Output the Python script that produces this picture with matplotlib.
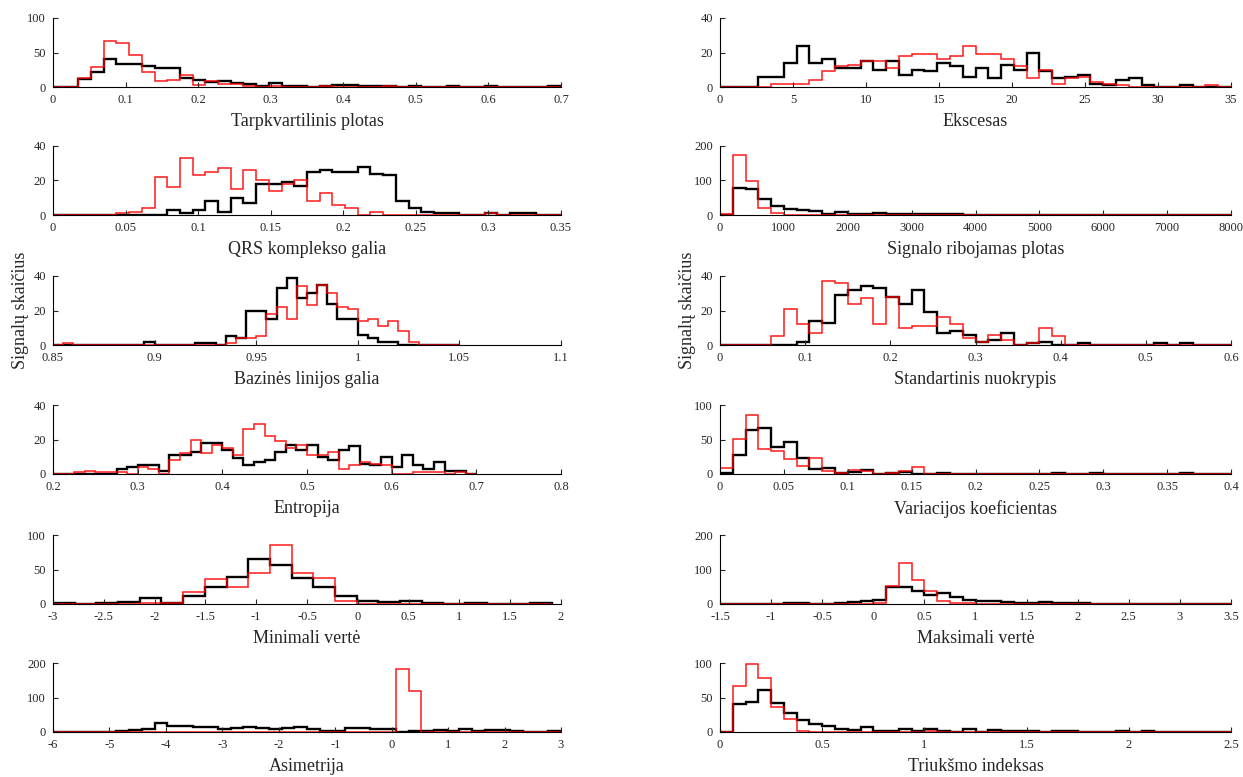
import matplotlib
matplotlib.use("Agg")
import matplotlib.pyplot as plt
from matplotlib.ticker import FuncFormatter
import numpy as np

plt.rcParams['font.family'] = ['Liberation Serif', 'DejaVu Serif']
plt.rcParams['axes.unicode_minus'] = False

# histogram counts (black = first group, red = second group)
iqr_range = (0.0, 0.7)
iqr_black = [0, 0, 11, 22, 41, 34, 33, 30, 27, 28, 13, 10, 7, 8, 6, 4, 1, 6, 2, 2,
             0, 2, 3, 3, 1, 2, 1, 0, 2, 0, 0, 1, 0, 0, 1, 0, 0, 0, 0, 1]
iqr_red = [0, 0, 13, 29, 67, 64, 46, 22, 9, 10, 18, 3, 9, 4, 4, 1, 0, 1, 0, 0,
           0, 1, 0, 0, 0, 0, 1, 0, 0, 0, 0, 0, 0, 0, 0, 0, 0, 0, 0, 0]

kurt_range = (0.0, 35.0)
kurt_black = [0, 0, 0, 6, 6, 14, 24, 14, 16, 11, 11, 15, 10, 15, 7, 10, 9, 14, 12, 6,
              11, 5, 13, 10, 20, 9, 5, 6, 7, 2, 1, 4, 5, 1, 0, 0, 1, 0, 0, 0]
kurt_red = [0, 0, 0, 0, 2, 2, 2, 4, 9, 12, 13, 15, 15, 11, 18, 19, 19, 16, 18, 24,
            19, 19, 16, 12, 5, 10, 2, 5, 6, 3, 2, 1, 0, 0, 0, 0, 0, 0, 1, 0]

qrs_range = (0.0, 0.35)
qrs_black = [0, 0, 0, 0, 0, 0, 0, 0, 0, 3, 1, 3, 8, 2, 10, 7, 18, 18, 19, 17,
             25, 26, 25, 25, 28, 24, 23, 8, 4, 2, 1, 1, 0, 0, 1, 0, 1, 1, 0, 0]
qrs_red = [0, 0, 0, 0, 0, 1, 2, 4, 22, 16, 33, 23, 25, 27, 15, 26, 20, 14, 18, 20,
           8, 13, 6, 4, 0, 2, 0, 0, 0, 0, 0, 0, 0, 0, 1, 0, 0, 0, 0, 0]

area_range = (0.0, 8000.0)
area_black = [0, 78, 76, 47, 25, 17, 14, 12, 3, 8, 4, 4, 5, 3, 3, 3, 4, 4, 4, 1,
              1, 1, 1, 1, 0, 0, 0, 0, 0, 1, 1, 0, 0, 0, 0, 1, 1, 0, 0, 0]
area_red = [4, 175, 98, 20, 5, 1, 1, 1, 0, 1, 1, 0, 0, 0, 0, 0, 0, 0, 0, 0,
            0, 0, 0, 0, 0, 0, 0, 0, 0, 0, 0, 0, 0, 0, 0, 0, 0, 0, 0, 0]

base_range = (0.85, 1.05)
base_black = [0, 0, 0, 0, 0, 0, 0, 0, 0, 2, 0, 0, 0, 0, 1, 1, 0, 5, 4, 20,
              20, 15, 33, 39, 27, 30, 35, 24, 15, 15, 6, 4, 2, 2, 0, 0, 0, 0, 0, 0]
base_red = [0, 1, 0, 0, 0, 0, 0, 0, 0, 0, 0, 0, 0, 0, 0, 0, 0, 1, 4, 4,
            5, 18, 22, 15, 34, 23, 35, 30, 22, 21, 14, 15, 11, 14, 8, 2, 0, 0, 0, 0]

std_range = (0.0, 0.6)
std_black = [0, 0, 0, 0, 0, 0, 2, 14, 13, 29, 32, 34, 33, 28, 24, 32, 19, 7, 8, 6,
             2, 3, 7, 0, 1, 2, 0, 0, 1, 0, 0, 0, 0, 0, 1, 0, 1, 0, 0, 0]
std_red = [0, 0, 0, 0, 5, 21, 12, 7, 37, 36, 24, 27, 12, 28, 10, 11, 11, 16, 12, 4,
           2, 6, 3, 0, 1, 10, 5, 0, 0, 0, 0, 0, 0, 0, 0, 0, 0, 0, 0, 0]

ent_range = (0.2, 0.7)
ent_black = [0, 0, 0, 0, 0, 0, 3, 4, 5, 5, 2, 11, 11, 13, 18, 18, 14, 9, 5, 7,
             8, 13, 17, 14, 17, 10, 8, 14, 16, 6, 5, 10, 4, 11, 5, 3, 7, 2, 2, 0]
ent_red = [0, 0, 1, 2, 1, 1, 1, 0, 4, 3, 0, 8, 12, 20, 12, 17, 15, 11, 26, 29,
           22, 19, 15, 17, 11, 11, 13, 3, 5, 7, 6, 5, 0, 0, 1, 1, 1, 0, 1, 0]

cv_range = (0.0, 0.4)
cv_black = [1, 27, 64, 66, 39, 46, 23, 7, 9, 1, 3, 6, 0, 1, 3, 0, 0, 1, 0, 0,
            0, 0, 0, 0, 0, 0, 1, 0, 0, 1, 0, 0, 0, 0, 0, 0, 1, 0, 0, 0]
cv_red = [8, 51, 85, 36, 33, 22, 11, 23, 5, 1, 6, 5, 0, 1, 5, 10, 0, 0, 0, 0,
          0, 0, 0, 0, 0, 0, 0, 0, 0, 0, 0, 0, 0, 0, 0, 0, 0, 0, 0, 0]

min_range = (-3.0, 1.911)
min_black = [1, 0, 1, 3, 9, 2, 12, 24, 39, 65, 56, 37, 24, 12, 4, 3, 5, 1, 0, 1, 0, 0, 1]
min_red = [0, 0, 0, 0, 2, 1, 17, 36, 24, 45, 85, 45, 38, 4, 0, 0, 0, 0, 0, 0, 0, 0, 0]

max_range = (-1.5, 3.5)
max_black = [0, 0, 0, 1, 1, 2, 2, 0, 1, 3, 5, 10, 12, 48, 49, 38, 25, 31, 21, 13,
             8, 9, 5, 4, 4, 5, 2, 4, 2, 1, 0, 0, 0, 0, 0, 0, 0, 0, 0, 1]
max_red = [0, 0, 0, 0, 0, 0, 0, 0, 0, 0, 0, 1, 2, 53, 118, 70, 39, 10, 3, 2,
           1, 1, 1, 0, 0, 0, 0, 0, 0, 0, 0, 0, 0, 0, 0, 0, 0, 0, 0, 0]

skew_range = (-6.0, 3.0)
skew_black = [0, 0, 0, 0, 1, 3, 7, 10, 27, 16, 18, 15, 15, 9, 12, 14, 13, 9, 13, 14,
              10, 3, 4, 11, 12, 9, 8, 1, 3, 4, 5, 2, 10, 4, 6, 6, 4, 0, 0, 3]
skew_red = [0, 0, 0, 0, 0, 0, 0, 0, 0, 0, 0, 0, 0, 0, 0, 0, 0, 0, 0, 0,
            0, 0, 0, 0, 0, 0, 0, 182, 118, 0, 0, 0, 0, 0, 0, 0, 0, 0, 0, 0]

noise_range = (0.0, 2.5)
noise_black = [0, 40, 44, 61, 42, 28, 18, 12, 8, 5, 3, 7, 2, 2, 4, 2, 4, 2, 0, 4,
               0, 3, 2, 1, 1, 0, 1, 1, 0, 0, 0, 1, 0, 1, 0, 0, 0, 0, 0, 0]
noise_red = [0, 66, 98, 78, 36, 19, 1, 0, 0, 0, 0, 0, 0, 0, 0, 0, 1, 0, 0, 0,
             0, 0, 0, 0, 0, 0, 0, 0, 0, 0, 0, 0, 0, 0, 0, 0, 0, 0, 0, 0]

# (label, xlim, xticks, ymax, range, black, red), left column then right column
panels = [
    ("Tarpkvartilinis plotas", (0, 0.7), np.arange(0, 0.71, 0.1), 100, iqr_range, iqr_black, iqr_red),
    ("QRS komplekso galia", (0, 0.35), np.arange(0, 0.351, 0.05), 40, qrs_range, qrs_black, qrs_red),
    ("Bazinės linijos galia", (0.85, 1.1), np.arange(0.85, 1.101, 0.05), 40, base_range, base_black, base_red),
    ("Entropija", (0.2, 0.8), np.arange(0.2, 0.801, 0.1), 40, ent_range, ent_black, ent_red),
    ("Minimali vertė", (-3, 2), np.arange(-3, 2.01, 0.5), 100, min_range, min_black, min_red),
    ("Asimetrija", (-6, 3), np.arange(-6, 3.01, 1), 200, skew_range, skew_black, skew_red),
    ("Ekscesas", (0, 35), np.arange(0, 35.1, 5), 40, kurt_range, kurt_black, kurt_red),
    ("Signalo ribojamas plotas", (0, 8000), np.arange(0, 8001, 1000), 200, area_range, area_black, area_red),
    ("Standartinis nuokrypis", (0, 0.6), np.arange(0, 0.61, 0.1), 40, std_range, std_black, std_red),
    ("Variacijos koeficientas", (0, 0.4), np.arange(0, 0.401, 0.05), 100, cv_range, cv_black, cv_red),
    ("Maksimali vertė", (-1.5, 3.5), np.arange(-1.5, 3.51, 0.5), 200, max_range, max_black, max_red),
    ("Triukšmo indeksas", (0, 2.5), np.arange(0, 2.51, 0.5), 100, noise_range, noise_black, noise_red),
]

W, H = 1243, 777
fig = plt.figure(figsize=(W / 100, H / 100), dpi=100)

tops = [18, 146, 276, 405, 535, 663]
col_x = [(53, 508), (720, 511)]
ax_h = 69

fmt = FuncFormatter(lambda v, p: "%g" % round(v, 6))

for i, (label, xlim, xticks, ymax, rng, blk, red) in enumerate(panels):
    col, row = divmod(i, 6)
    x0, w = col_x[col]
    ax = fig.add_axes([x0 / W, 1 - (tops[row] + ax_h) / H, w / W, ax_h / H])

    edges_b = np.linspace(rng[0], rng[1], len(blk) + 1)
    edges_r = np.linspace(rng[0], rng[1], len(red) + 1)
    ax.stairs(blk, edges_b, color='black', lw=1.7)
    ax.stairs(red, edges_r, color='red', lw=1.1, alpha=0.9)

    ax.set_xlim(xlim)
    ax.set_ylim(0, ymax)
    ax.set_xticks(xticks)
    ax.set_yticks([0, ymax / 2, ymax])
    ax.xaxis.set_major_formatter(fmt)
    ax.yaxis.set_major_formatter(fmt)
    for s in ('top', 'right'):
        ax.spines[s].set_visible(False)
    for s in ('left', 'bottom'):
        ax.spines[s].set_linewidth(0.8)
    ax.tick_params(direction='in', length=3.6, width=0.8, labelsize=9,
                   colors='#262626')
    ax.tick_params(axis='x', pad=5)
    ax.tick_params(axis='y', pad=5)
    ax.set_xlabel(label, fontsize=13, labelpad=5, color='#262626')
    if row == 2:
        ax.set_ylabel("Signalų skaičius", fontsize=13, labelpad=3, color='#262626')

fig.savefig("out.png", dpi=100)
